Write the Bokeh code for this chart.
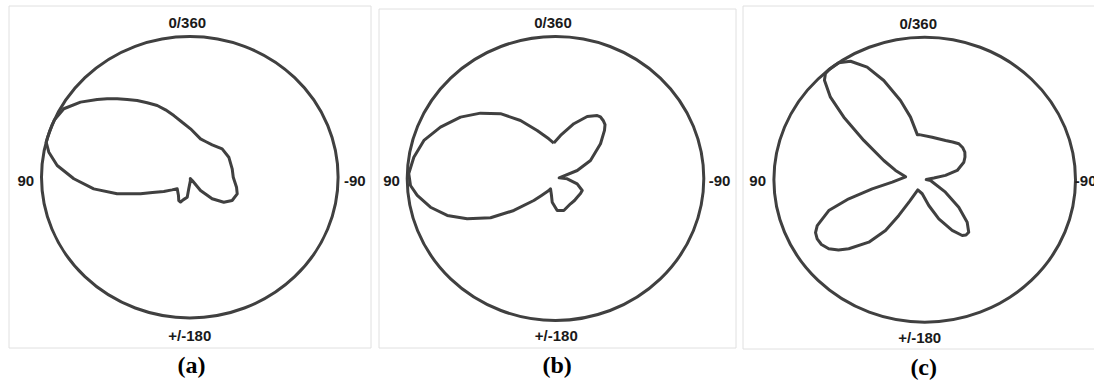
import math
from bokeh.plotting import figure
from bokeh.layouts import row
from bokeh.models import Range1d
from bokeh.core.properties import value
from bokeh.embed import file_html
from bokeh.resources import INLINE

# ---------------- data ----------------
direction_labels = ["0/360", "90", "-90", "+/-180"]
captions = ["(a)", "(b)", "(c)"]

# polar patterns: angle in degrees (0 at top, 90 to the left), normalised gain
angle_a = [7.2, 13.8, 18.9, 23.3, 28.5, 33.1, 37.4, 41.3, 45.0, 48.5, 54.1, 60.2,
           66.0, 71.0, 75.6, 79.4, 84.7, 90.8, 97.3, 103.5, 109.6, 113.4, 120.2,
           127.0, 134.0, 149.6, 155.9, 160.5, 165.0, 173.0, 175.2, 190.0, 200.0,
           210.0, 214.6, 217.4, 224.5, 232.2, 239.9, 249.7, 257.3, 270.0, 281.8,
           298.4, 312.7, 326.7, 337.3, 345.2, 359.2]
gain_a = [0.392, 0.451, 0.506, 0.555, 0.602, 0.650, 0.695, 0.742, 0.788, 0.834, 0.910,
          0.979, 1.000, 1.000, 1.000, 0.967, 0.898, 0.782, 0.653, 0.504, 0.353, 0.274,
          0.203, 0.150, 0.118, 0.151, 0.182, 0.187, 0.165, 0.143, 0.080, 0.024, 0.010,
          0.020, 0.029, 0.119, 0.215, 0.290, 0.330, 0.341, 0.323, 0.293, 0.292, 0.299,
          0.297, 0.275, 0.275, 0.282, 0.344]

angle_b = [2.6, 9.2, 20.1, 30.0, 39.1, 47.7, 56.0, 65.0, 73.2, 81.1, 88.0, 92.9,
           97.3, 103.5, 109.6, 115.5, 122.3, 128.7, 136.6, 141.7, 151.9, 155.1, 167.3,
           172.4, 182.9, 194.0, 209.6, 219.6, 228.0, 237.9, 244.9, 255.7, 268.5, 280.0,
           291.0, 298.3, 308.9, 315.7, 318.7, 321.8, 325.0, 327.6, 333.9, 342.2, 353.6]
gain_b = [0.250, 0.283, 0.360, 0.472, 0.588, 0.684, 0.773, 0.856, 0.927, 0.967, 0.990,
          0.979, 0.940, 0.867, 0.775, 0.660, 0.518, 0.360, 0.213, 0.152, 0.096, 0.080,
          0.123, 0.168, 0.226, 0.232, 0.205, 0.201, 0.197, 0.199, 0.199, 0.151, 0.079,
          0.025, 0.157, 0.268, 0.390, 0.473, 0.506, 0.520, 0.529, 0.525, 0.486, 0.405,
          0.305]

angle_c = [5.1, 8.8, 12.1, 16.1, 21.3, 25.8, 30.6, 34.8, 36.9, 39.3, 41.4, 43.6,
           47.2, 50.7, 55.7, 63.6, 71.5, 81.0, 94.6, 100.4, 104.9, 108.8, 114.3, 117.2,
           120.2, 123.6, 127.3, 130.8, 133.9, 139.8, 143.9, 145.6, 146.5, 147.5, 170.5,
           188.5, 198.8, 207.1, 212.4, 215.2, 218.4, 223.4, 229.5, 237.5, 261.7, 276.0,
           281.0, 282.5, 286.7, 295.3, 300.8, 306.0, 312.0, 318.1, 325.1, 333.4, 350.5]
gain_c = [0.316, 0.320, 0.449, 0.579, 0.747, 0.877, 0.966, 1.000, 1.000, 1.000, 0.995,
          0.964, 0.852, 0.693, 0.489, 0.303, 0.204, 0.128, 0.216, 0.354, 0.521, 0.672,
          0.782, 0.814, 0.825, 0.822, 0.800, 0.755, 0.699, 0.574, 0.441, 0.304, 0.180,
          0.085, 0.100, 0.183, 0.290, 0.400, 0.464, 0.475, 0.470, 0.410, 0.297, 0.163,
          0.039, 0.010, 0.062, 0.141, 0.225, 0.287, 0.311, 0.329, 0.338, 0.339, 0.323,
          0.308, 0.302]

patterns = [(angle_a, gain_a), (angle_b, gain_b), (angle_c, gain_c)]

# ---------------- layout (page pixels) ----------------
FIG_H = 388
TOP = 0
layouts = [
    dict(left=0, width=375, cx=189.3, cy=176.7, rx=148.3, ry=140.7,
         frame=(8.5, 370.5, 5.5, 347.5),
         lab=[(-2.5, -155), (-164, 3.3), (165, 3.3), (0, 158.3)], cap=(1.7, 188)),
    dict(left=375, width=364, cx=555.0, cy=178.0, rx=148.3, ry=142.0,
         frame=(378.5, 735.5, 8.5, 347.5),
         lab=[(-2.5, -156.3), (-164, 2), (164, 2), (0.8, 157)], cap=(1.7, 186)),
    dict(left=739, width=355, cx=924.2, cy=179.2, rx=150.8, ry=142.5,
         frame=(742.5, 1100, 5.5, 348.5),
         lab=[(-6.5, -156), (-167, 1), (161, 1), (-5, 158)], cap=(-1, 187)),
]

LINE = "#404040"
figs = []
for (angles, gains), cap, L in zip(patterns, captions, layouts):
    cx, cy, rx, ry = L["cx"], L["cy"], L["rx"], L["ry"]
    def dx(px):
        return (px - cx) / rx
    def dy(py):
        return (cy - py) / ry
    p = figure(width=L["width"], height=FIG_H, output_backend="svg",
               toolbar_location=None, x_axis_location=None, y_axis_location=None,
               x_range=Range1d(dx(L["left"]), dx(L["left"] + L["width"])),
               y_range=Range1d(dy(TOP + FIG_H), dy(TOP)),
               min_border=0, match_aspect=False)
    p.grid.visible = False
    p.outline_line_color = None
    p.background_fill_color = "white"
    p.border_fill_color = "white"

    fl, fr, ft, fb = L["frame"]
    p.quad(left=[dx(fl)], right=[dx(fr)], top=[dy(ft)], bottom=[dy(fb)],
           fill_color=None, line_color="#e0e0e0", line_width=1)

    # outer unit circle
    p.ellipse(x=[0], y=[0], width=[2], height=[2], fill_color=None,
              line_color=LINE, line_width=3)

    # pattern
    xs = [-g * math.sin(math.radians(a)) for a, g in zip(angles, gains)]
    ys = [g * math.cos(math.radians(a)) for a, g in zip(angles, gains)]
    xs.append(xs[0]); ys.append(ys[0])
    p.line(xs, ys, line_color=LINE, line_width=3, line_join="round")

    # direction labels
    p.text(x=[o[0] / rx for o in L["lab"]], y=[-o[1] / ry for o in L["lab"]],
           text=direction_labels, text_align="center", text_baseline="middle",
           text_font=value("Liberation Sans"), text_font_style="bold",
           text_font_size="15px", text_color="#1a1a1a")

    # caption
    p.text(x=[L["cap"][0] / rx], y=[-L["cap"][1] / ry], text=[cap],
           text_align="center", text_baseline="middle",
           text_font=value("Liberation Serif"), text_font_style="bold",
           text_font_size="24px", text_color="black")
    figs.append(p)

layout = row(*figs)
open("out.html", "w").write(file_html(layout, INLINE))
